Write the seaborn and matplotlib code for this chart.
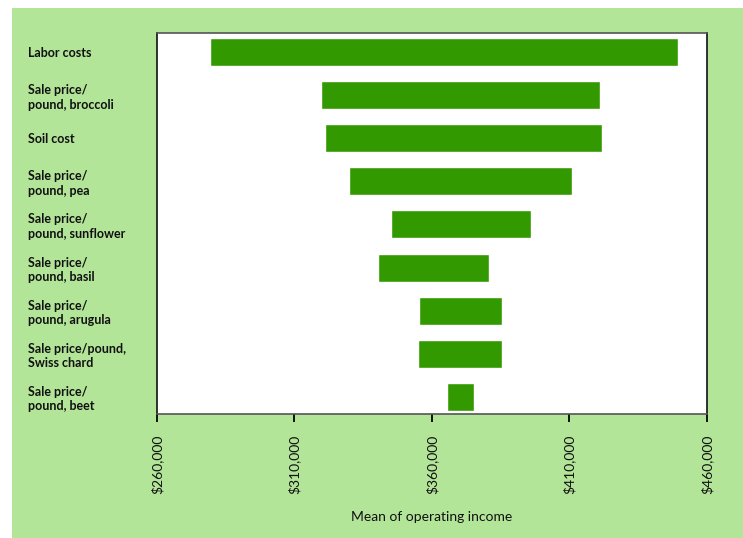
import matplotlib
matplotlib.use("Agg")
import matplotlib.pyplot as plt
import matplotlib.patches as mpatches
import matplotlib.ticker as mticker
import seaborn as sns
import pandas as pd

categories = [
    "Labor costs",
    "Sale price/\npound, broccoli",
    "Soil cost",
    "Sale price/\npound, pea",
    "Sale price/\npound, sunflower",
    "Sale price/\npound, basil",
    "Sale price/\npound, arugula",
    "Sale price/pound,\nSwiss chard",
    "Sale price/\npound, beet",
]
low_values = [279400, 319700, 321200, 329900, 345200, 340600, 355400, 355000, 365600]
high_values = [449600, 421200, 421900, 411000, 396100, 380800, 385600, 385600, 375400]
x_ticks = [260000, 310000, 360000, 410000, 460000]
x_label = "Mean of operating income"

BG = "#b3e599"
BAR = "#329a00"

sns.set_theme(style="white")
plt.rcParams["font.family"] = ["Lato", "DejaVu Sans"]

df = pd.DataFrame({
    "category": categories,
    "low": low_values,
    "high": high_values,
})
df["span"] = df["high"] - df["low"]

fig = plt.figure(figsize=(7.43, 5.38), dpi=100, facecolor="white")
fig.patches.append(mpatches.Rectangle((12 / 743, 0), 1 - 12 / 743, 1 - 8 / 538,
                                      transform=fig.transFigure, facecolor=BG,
                                      edgecolor="none", zorder=-10))
ax = fig.add_axes([156.7 / 743, 1 - 414 / 538, (706.7 - 156.7) / 743, (414 - 32.7) / 538])
ax.set_facecolor("white")

sns.barplot(data=df, y="category", x="span", order=categories, orient="y",
            color=BAR, saturation=1, width=0.65, left=df["low"].tolist(), ax=ax)

ax.set_xlim(x_ticks[0], x_ticks[-1])
ax.set_ylim(8.4, -0.45)
ax.set_xticks(x_ticks)
ax.xaxis.set_major_formatter(mticker.FuncFormatter(lambda v, p: f"${v:,.0f}"))
for lab in ax.get_xticklabels():
    lab.set_rotation(90)
    lab.set_fontsize(10)
    lab.set_color("#111111")
ax.tick_params(axis="x", direction="out", length=6, width=1.3, color="black", pad=9, bottom=True)
ax.tick_params(axis="y", length=0, pad=92.6)
for lab in ax.get_yticklabels():
    lab.set_ha("left")
    lab.set_fontsize(9)
    lab.set_fontweight("bold")
    lab.set_color("#111111")
    lab.set_linespacing(1.25)

ax.set_ylabel("")
ax.set_xlabel(x_label, fontsize=10, color="#111111", labelpad=12)

for side in ["left", "right"]:
    ax.spines[side].set_color("#111111")
    ax.spines[side].set_linewidth(1.2)
for side in ["top", "bottom"]:
    ax.spines[side].set_color("#555555")
    ax.spines[side].set_linewidth(1.2)
    ax.spines[side].set_visible(True)

fig.savefig("out.png", dpi=100, facecolor="white")
